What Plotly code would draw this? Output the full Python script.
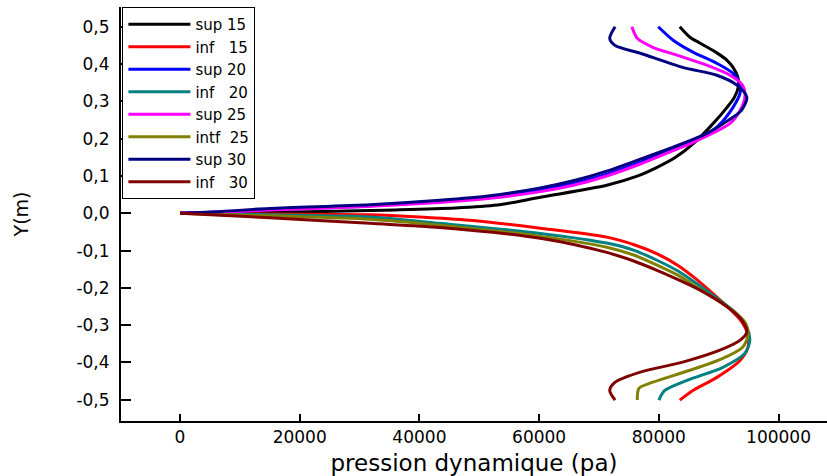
import plotly.graph_objects as go

# Dynamic pressure profiles (pa) across the section height Y (m)
# "sup" = upper half (Y >= 0), "inf" = lower half (Y <= 0)

y_sup15 = [0, 0.002, 0.005, 0.009, 0.014, 0.022, 0.043, 0.075, 0.100, 0.123, 0.150, 0.190,
           0.241, 0.284, 0.310, 0.340, 0.365, 0.391, 0.410, 0.430, 0.456, 0.472, 0.500]
p_sup15 = [0, 12000, 24000, 36000, 46000, 53000, 60200, 71300, 76500, 79700, 82800, 86000,
           89100, 91400, 92600, 93300, 93200, 92400, 91400, 89700, 86900, 85200, 83500]

y_sup20 = [0, 0.004, 0.010, 0.019, 0.032, 0.043, 0.062, 0.080, 0.105, 0.137, 0.172, 0.195,
           0.231, 0.284, 0.324, 0.349, 0.375, 0.402, 0.432, 0.464, 0.500]
p_sup20 = [0, 8000, 15000, 31000, 43400, 51800, 60200, 65700, 71300, 76900, 82400, 86000,
           89700, 92400, 93600, 93500, 92400, 89700, 85700, 82400, 79900]

y_sup25 = [0, 0.004, 0.009, 0.018, 0.029, 0.040, 0.058, 0.075, 0.100, 0.132, 0.168, 0.192,
           0.241, 0.276, 0.315, 0.343, 0.370, 0.397, 0.424, 0.445, 0.469, 0.500]
p_sup25 = [0, 8000, 15000, 31000, 43400, 51800, 60200, 65700, 71300, 76900, 82400, 86000,
           91900, 93600, 94400, 94000, 91900, 88000, 83000, 79000, 76400, 75500]

y_sup30 = [0, 0.005, 0.013, 0.023, 0.035, 0.047, 0.068, 0.087, 0.113, 0.145, 0.177, 0.214,
           0.249, 0.276, 0.311, 0.343, 0.370, 0.391, 0.429, 0.450, 0.469, 0.500]
p_sup30 = [0, 7000, 15000, 31700, 43400, 51800, 60200, 65700, 71300, 76900, 82400, 88000,
           91600, 93800, 94700, 93100, 89700, 84000, 76900, 72700, 71800, 72700]

y_inf15 = [0, -0.002, -0.004, -0.010, -0.019, -0.040, -0.064, -0.085, -0.110, -0.140, -0.176,
           -0.215, -0.252, -0.290, -0.322, -0.359, -0.394, -0.440, -0.475, -0.501]
p_inf15 = [0, 15000, 31700, 40000, 48400, 60200, 71300, 76000, 79900, 83200, 86200,
           89000, 91600, 93800, 94800, 94900, 93600, 89700, 85700, 83500]

y_inf20 = [0, -0.004, -0.010, -0.027, -0.054, -0.080, -0.100, -0.126, -0.155, -0.185, -0.235,
           -0.268, -0.306, -0.340, -0.375, -0.413, -0.448, -0.475, -0.501]
p_inf20 = [0, 15000, 31700, 43400, 60200, 71300, 76000, 79700, 83200, 86000, 90300,
           92900, 94700, 95200, 94400, 90700, 84700, 81000, 80000]

y_inf25 = [0, -0.007, -0.016, -0.032, -0.062, -0.091, -0.112, -0.139, -0.168, -0.200, -0.230,
           -0.260, -0.295, -0.327, -0.359, -0.389, -0.421, -0.453, -0.469, -0.501]
p_inf25 = [0, 15000, 31700, 43400, 60200, 71300, 75800, 79700, 83400, 86500, 89500,
           92300, 94500, 94900, 94000, 90700, 85200, 79000, 76700, 76400]

y_inf30 = [0, -0.012, -0.027, -0.038, -0.067, -0.105, -0.128, -0.153, -0.180, -0.206, -0.252,
           -0.287, -0.319, -0.340, -0.367, -0.399, -0.426, -0.453, -0.475, -0.501]
p_inf30 = [0, 15000, 31700, 43400, 60200, 71300, 75800, 79700, 83500, 86900, 91500,
           93900, 94700, 93600, 90200, 84000, 76900, 72700, 71800, 72700]

series = [
    ("sup\u00a015", p_sup15, y_sup15, "#000000"),
    ("inf\u00a0\u00a0\u00a015", p_inf15, y_inf15, "#FF0000"),
    ("sup\u00a020", p_sup20, y_sup20, "#0000FF"),
    ("inf\u00a0\u00a0\u00a020", p_inf20, y_inf20, "#008080"),
    ("sup\u00a025", p_sup25, y_sup25, "#FF00FF"),
    ("intf\u00a0\u00a025", p_inf25, y_inf25, "#808000"),
    ("sup\u00a030", p_sup30, y_sup30, "#000080"),
    ("inf\u00a0\u00a0\u00a030", p_inf30, y_inf30, "#800000"),
]

x_tickvals = [0, 20000, 40000, 60000, 80000, 100000]
x_ticktext = ["0", "20000", "40000", "60000", "80000", "100000"]
y_tickvals = [-0.5, -0.4, -0.3, -0.2, -0.1, 0.0, 0.1, 0.2, 0.3, 0.4, 0.5]
y_ticktext = ["-0,5", "-0,4", "-0,3", "-0,2", "-0,1", "0,0", "0,1", "0,2", "0,3", "0,4", "0,5"]

X_RANGE = [-9860, 108100]
Y_RANGE = [-0.557, 0.553]
FONT = "DejaVu Sans, Arial, sans-serif"

fig = go.Figure()
for name, p, y, color in series:
    fig.add_trace(go.Scatter(
        x=p, y=y, mode="lines", name=name,
        line=dict(color=color, width=3, shape="spline", smoothing=0.8),
    ))

# axis frame: major ticks on the main axes, minor ticks and the top edge on overlays
fig.update_layout(
    width=827, height=476,
    margin=dict(l=121, r=0, t=7, b=55),
    paper_bgcolor="white", plot_bgcolor="white",
    font=dict(family=FONT, color="black", size=17),
    showlegend=True,
    legend=dict(
        x=0.002, y=1, xanchor="left", yanchor="top",
        bgcolor="white", bordercolor="black", borderwidth=1,
        font=dict(family=FONT, size=15, color="black"),
        itemwidth=62, tracegroupgap=0,
    ),
    xaxis=dict(
        range=X_RANGE, tickmode="array", tickvals=x_tickvals, ticktext=x_ticktext,
        ticks="inside", ticklen=7, tickwidth=2, tickcolor="black",
        showline=True, linecolor="black", linewidth=2, mirror=False,
        showgrid=False, zeroline=False,
        tickfont=dict(family=FONT, size=17, color="black"),
        title=dict(text="pression dynamique (pa)", standoff=10,
                   font=dict(family=FONT, size=23, color="black")),
    ),
    xaxis2=dict(
        range=X_RANGE, overlaying="x", side="top", anchor="y",
        showline=True, linecolor="black", linewidth=2,
        ticks="inside", ticklen=3, tickwidth=1, tickcolor="black",
        tickmode="linear", tick0=0, dtick=10000,
        showticklabels=False, showgrid=False, zeroline=False,
    ),
    xaxis3=dict(
        range=X_RANGE, overlaying="x", side="bottom", anchor="y",
        showline=False, ticks="inside", ticklen=3, tickwidth=1, tickcolor="black",
        tickmode="linear", tick0=10000, dtick=20000,
        showticklabels=False, showgrid=False, zeroline=False,
    ),
    yaxis=dict(
        range=Y_RANGE, tickmode="array", tickvals=y_tickvals, ticktext=y_ticktext,
        ticks="inside", ticklen=10, tickwidth=2, tickcolor="black",
        showline=True, linecolor="black", linewidth=2, mirror=False,
        showgrid=False, zeroline=False,
        tickfont=dict(family=FONT, size=17, color="black"),
        ticklabelstandoff=6,
        title=dict(text="Y(m)", standoff=43,
                   font=dict(family=FONT, size=19, color="black")),
    ),
    yaxis2=dict(
        range=Y_RANGE, overlaying="y", side="left", anchor="x",
        showline=False, ticks="inside", ticklen=5, tickwidth=1, tickcolor="black",
        tickmode="linear", tick0=0.05, dtick=0.1,
        showticklabels=False, showgrid=False, zeroline=False,
    ),
)

fig.write_html("out.html")
